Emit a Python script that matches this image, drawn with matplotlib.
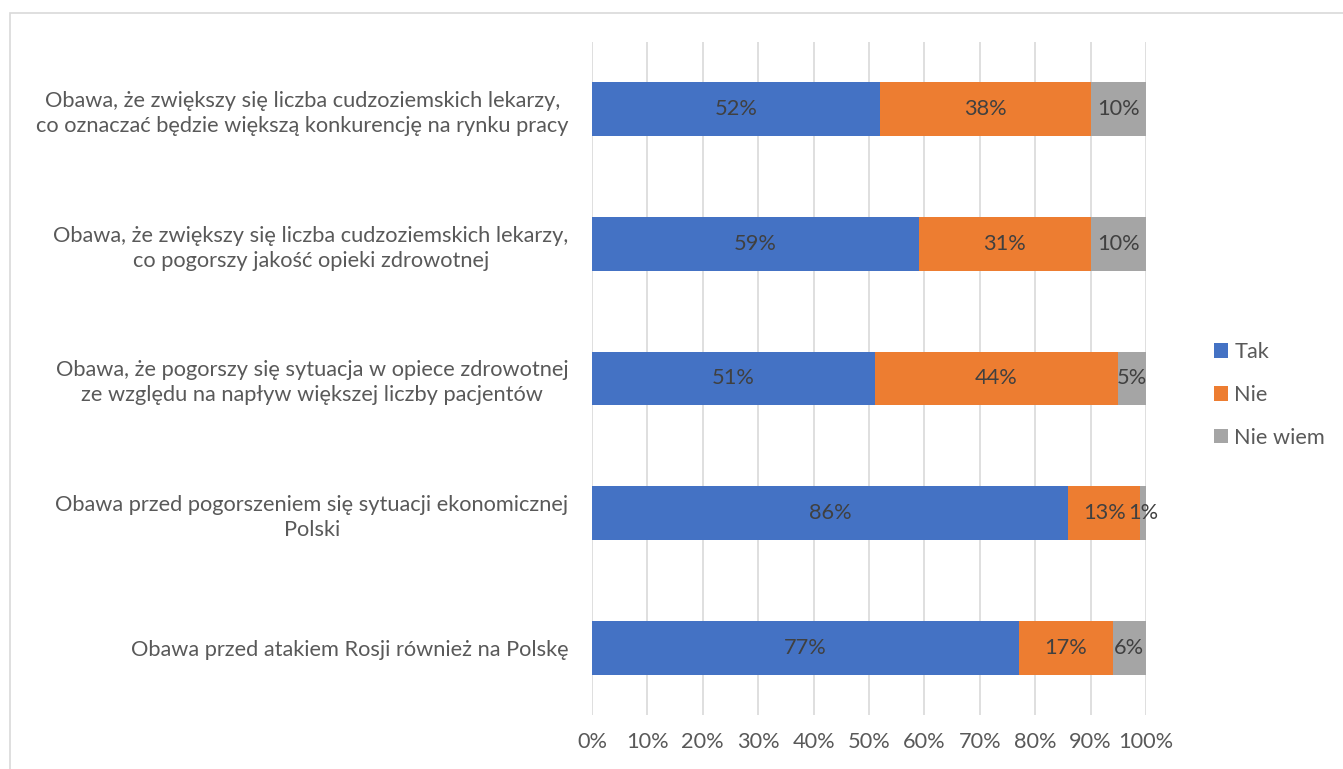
import numpy as np
import matplotlib.pyplot as plt
from matplotlib.patches import Rectangle

plt.rcParams["font.family"] = ["Lato", "DejaVu Sans"]

categories = [
    "Obawa, że zwiększy się liczba cudzoziemskich lekarzy,\nco oznaczać będzie większą konkurencję na rynku pracy",
    "Obawa, że zwiększy się liczba cudzoziemskich lekarzy,\nco pogorszy jakość opieki zdrowotnej",
    "Obawa, że pogorszy się sytuacja w opiece zdrowotnej\nze względu na napływ większej liczby pacjentów",
    "Obawa przed pogorszeniem się sytuacji ekonomicznej\nPolski",
    "Obawa przed atakiem Rosji również na Polskę",
]
tak = [52, 59, 51, 86, 77]
nie = [38, 31, 44, 13, 17]
nie_wiem = [10, 10, 5, 1, 6]

series = [("Tak", tak, "#4472C4"), ("Nie", nie, "#ED7D31"), ("Nie wiem", nie_wiem, "#A5A5A5")]
text_col = "#595959"
fs = 15.7

fig = plt.figure(figsize=(13.43, 7.69), dpi=100)
fig.patches.append(Rectangle((10 / 1343, -0.1), 1.2, 1 - 13 / 769 + 0.1, transform=fig.transFigure,
                             fill=False, edgecolor="#D9D9D9", lw=1.2))
ax = fig.add_axes([592 / 1343, 54 / 769, 554 / 1343, 673 / 769])

y = np.arange(len(categories))
left = np.zeros(len(categories))
for name, vals, col in series:
    vals = np.array(vals, dtype=float)
    ax.barh(y, vals / 100, left=left, height=0.4, color=col, label=name, zorder=3)
    for yi, l, v in zip(y, left, vals):
        ax.text(l + v / 200, yi, f"{v:.0f}%", ha="center", va="center",
                fontsize=fs, color="#404040", zorder=4)
    left += vals / 100

ax.set_xlim(0, 1)
ax.set_ylim(len(categories) - 0.5, -0.5)
ax.set_xticks(np.linspace(0, 1, 11))
ax.set_xticklabels([f"{p}%" for p in range(0, 101, 10)])
ax.set_yticks(y)
ax.set_yticklabels(categories, multialignment="center", linespacing=1.3)
ax.tick_params(axis="both", length=0, labelsize=fs, labelcolor=text_col)
ax.tick_params(axis="x", pad=12)
ax.tick_params(axis="y", pad=17)
ax.grid(axis="x", color="#D9D9D9", lw=1.2, zorder=0)
for s in ax.spines.values():
    s.set_visible(False)

ax.legend(loc="center left", bbox_to_anchor=(1.1227, 0.4755), frameon=False, fontsize=fs,
          labelcolor=text_col, handlelength=0.64, handleheight=0.64, handletextpad=0.3,
          labelspacing=1.05, borderpad=0, borderaxespad=0)

fig.savefig("out.png", dpi=100)
